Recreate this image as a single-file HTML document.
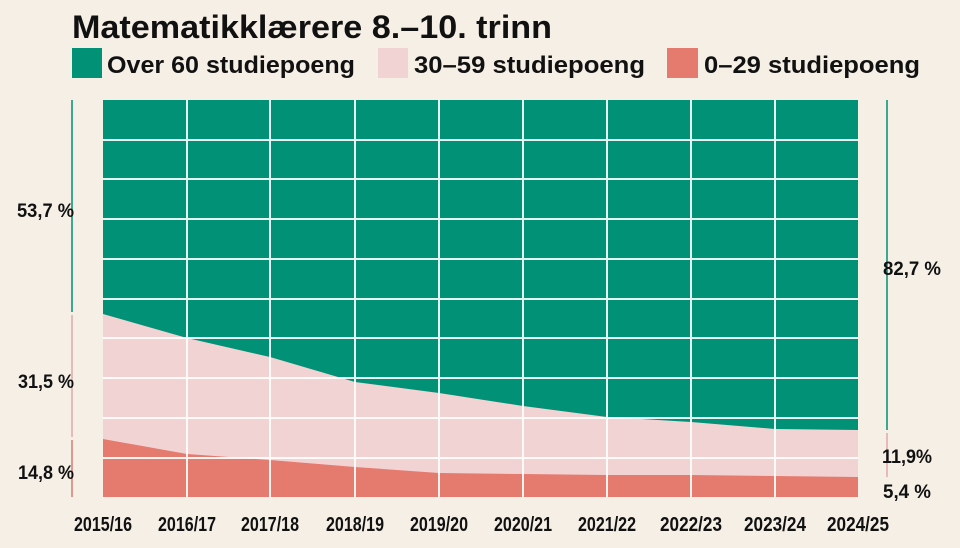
<!DOCTYPE html>
<html><head><meta charset="utf-8"><style>
html,body{margin:0;padding:0;background:#f5efe6;}
svg{display:block;}
text{font-family:"Liberation Sans",sans-serif;font-weight:bold;fill:#111;}
</style></head><body>
<svg width="960" height="548" viewBox="0 0 960 548" xmlns="http://www.w3.org/2000/svg">
<rect width="960" height="548" fill="#f5efe6"/>
<text x="72" y="38" font-size="32" textLength="480" lengthAdjust="spacingAndGlyphs">Matematikklærere 8.–10. trinn</text>
<rect x="72" y="48" width="30" height="30" fill="#009177"/>
<text x="107" y="73" font-size="24" textLength="248" lengthAdjust="spacingAndGlyphs">Over 60 studiepoeng</text>
<rect x="378" y="48" width="30" height="30" fill="#f2d3d3"/>
<text x="414" y="73" font-size="24" textLength="231" lengthAdjust="spacingAndGlyphs">30–59 studiepoeng</text>
<rect x="667" y="48" width="31" height="30" fill="#e57a6e"/>
<text x="704" y="73" font-size="24" textLength="216" lengthAdjust="spacingAndGlyphs">0–29 studiepoeng</text>

<rect x="103" y="100" width="755" height="397" fill="#009177"/>
<polygon fill="#f2d3d3" points="103,314 187,338 270,357 355,382 439,393 523,406 607,417 691,422 775,429 858,430 858,497 103,497"/>
<polygon fill="#e57a6e" points="103,439 187,454 270,460 355,467 439,473 523,474 607,475 691,475 775,476 858,477 858,497 103,497"/>
<g stroke="#fff" stroke-width="2" opacity="0.9">
<line x1="103" y1="140" x2="858" y2="140"/><line x1="103" y1="179" x2="858" y2="179"/>
<line x1="103" y1="219" x2="858" y2="219"/><line x1="103" y1="259" x2="858" y2="259"/>
<line x1="103" y1="299" x2="858" y2="299"/><line x1="103" y1="338" x2="858" y2="338"/>
<line x1="103" y1="378" x2="858" y2="378"/><line x1="103" y1="418" x2="858" y2="418"/>
<line x1="103" y1="458" x2="858" y2="458"/>
<line x1="187" y1="100" x2="187" y2="497"/><line x1="270" y1="100" x2="270" y2="497"/>
<line x1="355" y1="100" x2="355" y2="497"/><line x1="439" y1="100" x2="439" y2="497"/>
<line x1="523" y1="100" x2="523" y2="497"/><line x1="607" y1="100" x2="607" y2="497"/>
<line x1="691" y1="100" x2="691" y2="497"/><line x1="775" y1="100" x2="775" y2="497"/>
</g>
<g stroke-width="1.5">
<line x1="72" y1="100" x2="72" y2="312" stroke="#009177"/>
<line x1="72" y1="315" x2="72" y2="437" stroke="#e0a8a8"/>
<line x1="72" y1="440" x2="72" y2="497" stroke="#d77a70"/>
<line x1="887" y1="100" x2="887" y2="430" stroke="#009177"/>
<line x1="887" y1="433" x2="887" y2="477" stroke="#e0a8a8"/>
</g>
<g font-size="19">
<text x="17" y="217" textLength="57" lengthAdjust="spacingAndGlyphs">53,7 %</text>
<text x="18" y="388" textLength="56" lengthAdjust="spacingAndGlyphs">31,5 %</text>
<text x="18" y="479" textLength="56" lengthAdjust="spacingAndGlyphs">14,8 %</text>
<text x="883" y="275" textLength="58" lengthAdjust="spacingAndGlyphs">82,7 %</text>
<text x="882" y="463" textLength="50" lengthAdjust="spacingAndGlyphs">11,9%</text>
<text x="883" y="498" textLength="48" lengthAdjust="spacingAndGlyphs">5,4 %</text>
</g>
<g font-size="20" text-anchor="middle" font-weight="normal">
<text x="103" y="531" textLength="58" lengthAdjust="spacingAndGlyphs">2015/16</text>
<text x="187" y="531" textLength="58" lengthAdjust="spacingAndGlyphs">2016/17</text>
<text x="270" y="531" textLength="58" lengthAdjust="spacingAndGlyphs">2017/18</text>
<text x="355" y="531" textLength="58" lengthAdjust="spacingAndGlyphs">2018/19</text>
<text x="439" y="531" textLength="58" lengthAdjust="spacingAndGlyphs">2019/20</text>
<text x="523" y="531" textLength="58" lengthAdjust="spacingAndGlyphs">2020/21</text>
<text x="607" y="531" textLength="58" lengthAdjust="spacingAndGlyphs">2021/22</text>
<text x="691" y="531" textLength="62" lengthAdjust="spacingAndGlyphs">2022/23</text>
<text x="775" y="531" textLength="62" lengthAdjust="spacingAndGlyphs">2023/24</text>
<text x="858" y="531" textLength="62" lengthAdjust="spacingAndGlyphs">2024/25</text>
</g>
</svg>
</body></html>
